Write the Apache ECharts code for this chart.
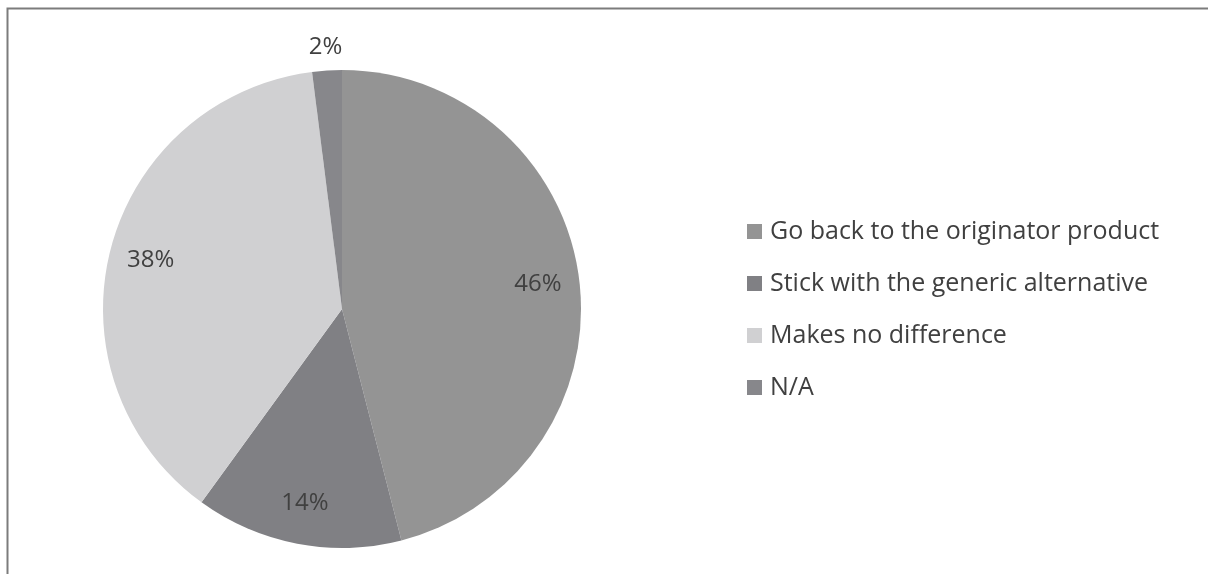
<!DOCTYPE html>
<html>
<head>
<meta charset="utf-8">
<script src="https://cdn.jsdelivr.net/npm/echarts@6/dist/echarts.min.js"></script>
<style>
  html, body { margin: 0; padding: 0; background: #fff; }
  #chart { width: 1208px; height: 574px; }
</style>
</head>
<body>
<div id="chart"></div>
<script>
const categories = [
  "Go back to the originator product",
  "Stick with the generic alternative",
  "Makes no difference",
  "N/A"
];
const shares = [46, 14, 38, 2];
const colors = ["#949494", "#808084", "#d0d0d2", "#87878b"];

const font = "'Open Sans', Lato, sans-serif";
const center = [342, 309];

let chart = echarts.init(document.getElementById("chart"));

// main slices
const pieData = categories.map((name, i) => ({
  name: name,
  value: shares[i],
  itemStyle: { color: colors[i] }
}));

// invisible rings only used to place the % labels
const innerLabels = categories.map((name, i) => ({
  name: name,
  value: shares[i],
  label: { show: i < 3 }
}));
const outerLabels = categories.map((name, i) => ({
  name: name,
  value: shares[i],
  label: { show: i === 3 }
}));

const labelStyle = {
  position: "inside",
  formatter: "{c}%",
  color: "#404040",
  fontSize: 24,
  fontFamily: font
};

chart.setOption({
  animation: false,
  legend: {
    orient: "vertical",
    left: 742,
    top: 214,
    icon: "rect",
    itemWidth: 15,
    itemHeight: 15,
    itemGap: 27,
    data: categories,
    textStyle: {
      color: "#404040",
      fontSize: 25,
      fontFamily: font,
      padding: [0, 0, 0, 3]
    }
  },
  graphic: [
    {
      type: "rect",
      shape: { x: 7.5, y: 8.5, width: 1400, height: 800 },
      style: { fill: "none", stroke: "#7c7c7c", lineWidth: 2 },
      silent: true
    }
  ],
  series: [
    {
      type: "pie",
      center: center,
      radius: [0, 239],
      startAngle: 90,
      clockwise: true,
      data: pieData,
      label: { show: false },
      labelLine: { show: false },
      itemStyle: { borderWidth: 0 },
      emphasis: { disabled: true }
    },
    {
      type: "pie",
      center: center,
      radius: [150, 239],
      startAngle: 90,
      clockwise: true,
      silent: true,
      data: innerLabels,
      itemStyle: { color: "transparent", borderWidth: 0 },
      label: labelStyle,
      labelLine: { show: false },
      emphasis: { disabled: true }
    },
    {
      type: "pie",
      center: center,
      radius: [239, 279],
      startAngle: 90,
      clockwise: true,
      silent: true,
      data: outerLabels,
      itemStyle: { color: "transparent", borderWidth: 0 },
      label: labelStyle,
      labelLine: { show: false },
      emphasis: { disabled: true }
    }
  ]
});
</script>
</body>
</html>
